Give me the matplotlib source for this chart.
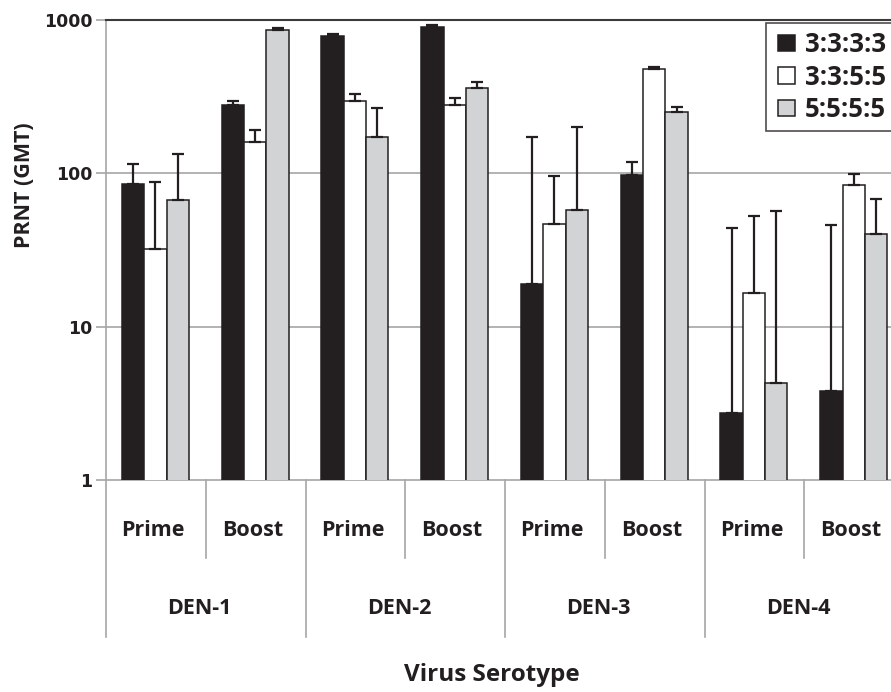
import numpy as np
import matplotlib
matplotlib.use("Agg")
import matplotlib.pyplot as plt
from matplotlib.patches import Patch, Rectangle
from matplotlib.legend_handler import HandlerPatch
import matplotlib.transforms as mtransforms

# values (GMT, log scale)
serotypes = ["DEN-1", "DEN-2", "DEN-3", "DEN-4"]
phases = ["Prime", "Boost"]
series_names = ["3:3:3:3", "3:3:5:5", "5:5:5:5"]

# order: DEN-1 Prime, DEN-1 Boost, DEN-2 Prime, ... DEN-4 Boost
gmt_3333 = [85, 281, 792, 906, 19, 97, 2.75, 3.8]
gmt_3355 = [32, 160, 297, 281, 47, 478, 16.7, 84]
gmt_5555 = [67, 858, 173, 359, 58, 252, 4.3, 40]

# top of the error bars
err_top_3333 = [115, 297, 811, 925, 172, 119, 44, 46]
err_top_3355 = [88, 191, 331, 309, 96, 494, 53, 99]
err_top_5555 = [133, 884, 266, 395, 200, 272, 57, 68]

colors = ["#231f20", "#ffffff", "#d1d3d4"]
grid_col = "#a6a6a6"
txt_font = "Open Sans"

W, H = 891, 692
fig = plt.figure(figsize=(W / 100, H / 100), dpi=100)
x0, x1, y0, y1 = 106, 904, 20, 480
ax = fig.add_axes([x0 / W, 1 - y1 / H, (x1 - x0) / W, (y1 - y0) / H])

n = len(serotypes) * len(phases)
slots = np.arange(n) + 0.496
bw = 0.224
allvals = [gmt_3333, gmt_3355, gmt_5555]
alltops = [err_top_3333, err_top_3355, err_top_5555]
for k in range(3):
    vals = np.array(allvals[k])
    tops = np.array(alltops[k])
    xs = slots + (k - 1) * bw
    ax.bar(xs, vals, bw, color=colors[k], edgecolor="#231f20", linewidth=1.1, zorder=3)
    ax.errorbar(xs, vals, yerr=[np.zeros(n), tops - vals], fmt="none",
                ecolor="#231f20", elinewidth=1.6, capsize=4.5, capthick=1.6, zorder=4)

ax.set_yscale("log")
ax.set_ylim(1, 1000)
ax.set_xlim(0, n)
ax.yaxis.set_minor_locator(matplotlib.ticker.NullLocator())
ax.set_yticks([1, 10, 100, 1000])
ax.set_yticklabels(["1", "10", "100", "1000"], fontfamily="DejaVu Sans",
                   fontweight="bold", fontsize=12.5, color="#231f20")
ax.tick_params(axis="y", length=7, width=1.2, color=grid_col, pad=3)
ax.set_xticks([])
for yv in [10, 100]:
    ax.axhline(yv, color=grid_col, lw=1.2, zorder=1)

ax.spines["right"].set_visible(False)
ax.spines["top"].set_color("#3a3a3a")
ax.spines["top"].set_linewidth(1.5)
ax.spines["left"].set_color(grid_col)
ax.spines["bottom"].set_color(grid_col)
ax.spines["left"].set_linewidth(1.2)
ax.spines["bottom"].set_linewidth(1.2)

# category table under the axis
trans = mtransforms.blended_transform_factory(ax.transData, ax.transAxes)
axh = y1 - y0
short_end = -(558 - y1) / axh
long_end = -(637 - y1) / axh
for i in range(n + 1):
    end = long_end if i % 2 == 0 else short_end
    ax.plot([i, i], [0, end], color=grid_col, lw=1.2, transform=trans, clip_on=False)
for i in range(n):
    ax.text(i + 0.47, -(530 - y1) / axh, phases[i % 2], transform=trans,
            ha="center", va="center", fontfamily=txt_font, fontweight="bold",
            fontsize=15.5, color="#231f20")
for g, name in enumerate(serotypes):
    ax.text(2 * g + 0.94, -(608 - y1) / axh, name, transform=trans,
            ha="center", va="center", fontfamily=txt_font, fontweight="bold",
            fontsize=15.5, color="#231f20")

fig.text(24 / W, 1 - 185 / H, "PRNT (GMT)", rotation=90, ha="center", va="center",
         fontfamily=txt_font, fontweight="bold", fontsize=15.5, color="#231f20")
fig.text(492 / W, 1 - 675 / H, "Virus Serotype", ha="center", va="center",
         fontfamily=txt_font, fontweight="bold", fontsize=17.5, color="#231f20")


def square_right(legend, orig_handle, xdescent, ydescent, width, height, fontsize):
    # square swatch pushed to the right end of the handle box
    return Rectangle((-xdescent + width - height, -ydescent), height, height)


handles = [Patch(facecolor=c, edgecolor="#231f20", linewidth=1.1) for c in colors]
leg = fig.legend(handles, series_names, loc="upper left",
                 bbox_to_anchor=(765.7 / W, 1 - 23.3 / H), frameon=True, fancybox=False,
                 borderaxespad=0, handlelength=0.83, handleheight=0.6, handletextpad=0.4,
                 labelspacing=0.22, borderpad=0.3,
                 handler_map={Patch: HandlerPatch(patch_func=square_right)},
                 prop={"family": txt_font, "weight": "bold", "size": 18.5})
leg.get_frame().set_edgecolor("#231f20")
leg.get_frame().set_linewidth(1.2)
for t in leg.get_texts():
    t.set_color("#231f20")

fig.savefig("out.png", dpi=100)
